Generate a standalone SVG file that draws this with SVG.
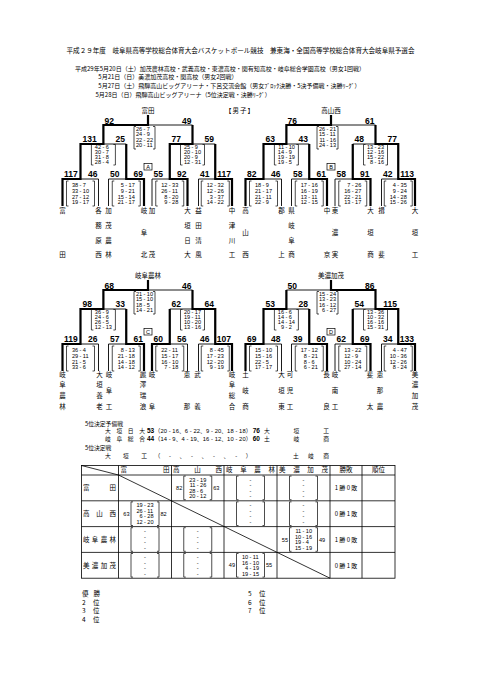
<svg xmlns="http://www.w3.org/2000/svg" width="481" height="680" viewBox="0 0 481 680">
<style>
text{font-family:"Liberation Sans",Arial,sans-serif;fill:#000}
.j{font-family:"Noto Sans CJK JP","Noto Sans CJK SC",sans-serif;font-size:6.5px}
.jm{text-anchor:middle}
.n{font-weight:bold;font-size:8.5px}
.e{text-anchor:end}
.s{font-size:5.6px}
.l{text-anchor:end}
.m{text-anchor:middle}
.b7{font-weight:bold;font-size:6.5px}
.r{font-family:"Liberation Sans","Noto Sans CJK JP",sans-serif;font-size:5.8px}
.h6{font-size:6px}
.rs{font-size:5.8px}
.thick{fill:none;stroke:#000;stroke-width:2.2}
.tb{fill:none;stroke:#000;stroke-width:0.8}
</style>
<defs>
<path id="frame" fill="none" stroke="#000" stroke-width="0.9" d="M148,115V125M103.4,125H192.5M103.4,125V144M192.5,125V144M80.5,144H126.25M169.75,144H215.25M80.5,144V179M126.25,144V179M169.75,144V179M215.25,144V179M62.5,179H98.5M108.5,179H144M152,179H187.5M198.5,179H232M62.5,179V206M98.5,179V206M108.5,179V206M144,179V206M152,179V206M187.5,179V206M198.5,179V206M232,179V206"/>
<path id="boxes" fill="none" stroke="#000" stroke-width="0.7" d="M136,126.5H134V149H136M153,126.5H155V149H153M93.4,144.5H91.4V165H93.4M113.4,144.5H115.4V165H113.4M182.5,144.5H180.5V165H182.5M202.5,144.5H204.5V165H202.5M68.5,181H66.5V206H68.5M92.5,181H94.5V206H92.5M114.25,181H112.25V206H114.25M138.25,181H140.25V206H138.25M157.75,181H155.75V206H157.75M181.75,181H183.75V206H181.75M203.25,181H201.25V206H203.25M227.25,181H229.25V206H227.25"/>
<rect id="lbox" x="144" y="163.5" width="8" height="6.5" fill="none" stroke="#000" stroke-width="0.7"/>
<path id="cbox" fill="none" stroke="#000" stroke-width="0.7" d="M-12,-11.8H-14V11.8H-12M12,-11.8H14V11.8H12"/>
<g id="ebox"><use href="#cbox"/><text class="s m" x="0"><tspan x="0" y="-6.25">-</tspan><tspan x="0" y="-0.75">-</tspan><tspan x="0" y="4.75">-</tspan><tspan x="0" y="10.25">-</tspan></text></g>
</defs>

<g id="header">
<text class="j" x="66.5" y="53" textLength="348" lengthAdjust="spacingAndGlyphs">平成２９年度　岐阜県高等学校総合体育大会バスケットボール競技　兼東海・全国高等学校総合体育大会岐阜県予選会</text>
<text class="j h6" x="75" y="70.5">平成29年5月20日（土）加茂農林高校・武義高校・東濃高校・関有知高校・岐阜総合学園高校（男女1回戦）</text>
<text class="j h6" x="98.3" y="79.3">5月21日（日）美濃加茂高校・関高校（男女2回戦）</text>
<text class="j h6" x="98.3" y="88.3">5月27日（土）飛騨高山ビッグアリーナ・下呂交流会館（男女ﾌﾞﾛｯｸ決勝・5決予備戦・決勝ﾘｰｸﾞ）</text>
<text class="j h6" x="95.5" y="96.6">5月28日（日）飛騨高山ビッグアリーナ（5位決定戦・決勝ﾘｰｸﾞ）</text>
<text class="j" x="225" y="112.5" textLength="29" lengthAdjust="spacing">【 男 子 】</text>
</g>

<!-- Block A -->
<g id="block-A">
<g id="connectors-A"><use href="#frame"/><use href="#boxes"/><use href="#lbox"/>
<path class="thick" d="M62.5,206V179H80.5V144H103.4V125H148V115M144,206V179H126.25V144M187.5,206V179H169.75V144H192.5V125M232,206V179H215.25V144"/></g>
<text class="s m" x="148" y="168.9">A</text>
<text class="j jm" x="148" y="112.5">富田</text>
<text class="n" x="104.5" y="123.5">92</text><text class="n e" x="191.5" y="123.5">49</text>
<text class="n" x="82.5" y="142.3">131</text><text class="n e" x="125" y="142.3">25</text><text class="n" x="171.5" y="142.3">77</text><text class="n e" x="214" y="142.3">59</text>
<text class="n" x="64" y="176.5">117</text><text class="n e" x="97.5" y="176.5">46</text><text class="n" x="110" y="176.5">50</text><text class="n e" x="143" y="176.5">69</text><text class="n" x="153.5" y="176.5">55</text><text class="n e" x="186.5" y="176.5">92</text><text class="n" x="200" y="176.5">41</text><text class="n e" x="231" y="176.5">117</text>
<text class="s"><tspan class="l" x="142.2" y="131">26</tspan><tspan class="m" x="144.5">-</tspan><tspan x="146.8">7</tspan><tspan class="l" x="142.2" y="136.3">24</tspan><tspan class="m" x="144.5">-</tspan><tspan x="146.8">9</tspan><tspan class="l" x="142.2" y="141.6">22</tspan><tspan class="m" x="144.5">-</tspan><tspan x="146.8">22</tspan><tspan class="l" x="142.2" y="146.9">20</tspan><tspan class="m" x="144.5">-</tspan><tspan x="146.8">11</tspan></text>
<text class="s"><tspan class="l" x="101.1" y="148.7">42</tspan><tspan class="m" x="103.4">-</tspan><tspan x="105.7">6</tspan><tspan class="l" x="101.1" y="153.7">30</tspan><tspan class="m" x="103.4">-</tspan><tspan x="105.7">7</tspan><tspan class="l" x="101.1" y="158.6">31</tspan><tspan class="m" x="103.4">-</tspan><tspan x="105.7">8</tspan><tspan class="l" x="101.1" y="163.5">28</tspan><tspan class="m" x="103.4">-</tspan><tspan x="105.7">4</tspan></text>
<text class="s"><tspan class="l" x="190.2" y="148.7">25</tspan><tspan class="m" x="192.5">-</tspan><tspan x="194.8">9</tspan><tspan class="l" x="190.2" y="153.7">20</tspan><tspan class="m" x="192.5">-</tspan><tspan x="194.8">10</tspan><tspan class="l" x="190.2" y="158.6">20</tspan><tspan class="m" x="192.5">-</tspan><tspan x="194.8">9</tspan><tspan class="l" x="190.2" y="163.5">12</tspan><tspan class="m" x="192.5">-</tspan><tspan x="194.8">31</tspan></text>
<text class="s"><tspan class="l" x="78.2" y="187.3">38</tspan><tspan class="m" x="80.5">-</tspan><tspan x="82.8">7</tspan><tspan class="l" x="78.2" y="192.9">33</tspan><tspan class="m" x="80.5">-</tspan><tspan x="82.8">10</tspan><tspan class="l" x="78.2" y="198.5">27</tspan><tspan class="m" x="80.5">-</tspan><tspan x="82.8">12</tspan><tspan class="l" x="78.2" y="204.1">19</tspan><tspan class="m" x="80.5">-</tspan><tspan x="82.8">17</tspan></text>
<text class="s"><tspan class="l" x="123.95" y="187.3">5</tspan><tspan class="m" x="126.25">-</tspan><tspan x="128.55">17</tspan><tspan class="l" x="123.95" y="192.9">9</tspan><tspan class="m" x="126.25">-</tspan><tspan x="128.55">21</tspan><tspan class="l" x="123.95" y="198.5">15</tspan><tspan class="m" x="126.25">-</tspan><tspan x="128.55">14</tspan><tspan class="l" x="123.95" y="204.1">21</tspan><tspan class="m" x="126.25">-</tspan><tspan x="128.55">17</tspan></text>
<text class="s"><tspan class="l" x="167.45" y="187.3">12</tspan><tspan class="m" x="169.75">-</tspan><tspan x="172.05">33</tspan><tspan class="l" x="167.45" y="192.9">26</tspan><tspan class="m" x="169.75">-</tspan><tspan x="172.05">11</tspan><tspan class="l" x="167.45" y="198.5">8</tspan><tspan class="m" x="169.75">-</tspan><tspan x="172.05">20</tspan><tspan class="l" x="167.45" y="204.1">9</tspan><tspan class="m" x="169.75">-</tspan><tspan x="172.05">28</tspan></text>
<text class="s"><tspan class="l" x="212.95" y="187.3">12</tspan><tspan class="m" x="215.25">-</tspan><tspan x="217.55">32</tspan><tspan class="l" x="212.95" y="192.9">12</tspan><tspan class="m" x="215.25">-</tspan><tspan x="217.55">26</tspan><tspan class="l" x="212.95" y="198.5">3</tspan><tspan class="m" x="215.25">-</tspan><tspan x="217.55">37</tspan><tspan class="l" x="212.95" y="204.1">14</tspan><tspan class="m" x="215.25">-</tspan><tspan x="217.55">22</tspan></text>
<text class="j jm"><tspan x="62.5" y="213.3">富</tspan><tspan x="62.5" y="257.3">田</tspan></text>
<text class="j jm"><tspan x="98.5" y="213.3">各</tspan><tspan x="98.5" y="228">務</tspan><tspan x="98.5" y="242.6">原</tspan><tspan x="98.5" y="257.3">西</tspan></text>
<text class="j jm"><tspan x="108.5" y="213.3">加</tspan><tspan x="108.5" y="228">茂</tspan><tspan x="108.5" y="242.6">農</tspan><tspan x="108.5" y="257.3">林</tspan></text>
<text class="j jm"><tspan x="144" y="213.3">岐</tspan><tspan x="144" y="235.3">阜</tspan><tspan x="144" y="257.3">北</tspan></text>
<text class="j jm"><tspan x="152" y="213.3">加</tspan><tspan x="152" y="257.3">茂</tspan></text>
<text class="j jm"><tspan x="187.5" y="213.3">大</tspan><tspan x="187.5" y="228">垣</tspan><tspan x="187.5" y="242.6">日</tspan><tspan x="187.5" y="257.3">大</tspan></text>
<text class="j jm"><tspan x="198.5" y="213.3">益</tspan><tspan x="198.5" y="228">田</tspan><tspan x="198.5" y="242.6">清</tspan><tspan x="198.5" y="257.3">風</tspan></text>
<text class="j jm"><tspan x="232" y="213.3">中</tspan><tspan x="232" y="228">津</tspan><tspan x="232" y="242.6">川</tspan><tspan x="232" y="257.3">工</tspan></text>
</g>

<!-- Block B -->
<g id="block-B" transform="translate(183,0)">
<g id="connectors-B"><use href="#frame"/><use href="#boxes"/><use href="#lbox"/>
<path class="thick" d="M62.5,206V179H80.5V144H103.4V125H148V115M144,206V179H126.25V144M187.5,206V179H169.75V144M232,206V179H215.25V144H192.5V125"/></g>
<text class="s m" x="148" y="168.9">B</text>
<text class="j jm" x="148" y="112.5">高山西</text>
<text class="n" x="104.5" y="123.5">76</text><text class="n e" x="191.5" y="123.5">61</text>
<text class="n" x="82.5" y="142.3">63</text><text class="n e" x="125" y="142.3">43</text><text class="n" x="171.5" y="142.3">48</text><text class="n e" x="214" y="142.3">77</text>
<text class="n" x="64" y="176.5">82</text><text class="n e" x="97.5" y="176.5">46</text><text class="n" x="110" y="176.5">58</text><text class="n e" x="143" y="176.5">61</text><text class="n" x="153.5" y="176.5">58</text><text class="n e" x="186.5" y="176.5">91</text><text class="n" x="200" y="176.5">42</text><text class="n e" x="231" y="176.5">113</text>
<text class="s"><tspan class="l" x="142.2" y="131">26</tspan><tspan class="m" x="144.5">-</tspan><tspan x="146.8">21</tspan><tspan class="l" x="142.2" y="136.3">15</tspan><tspan class="m" x="144.5">-</tspan><tspan x="146.8">11</tspan><tspan class="l" x="142.2" y="141.6">11</tspan><tspan class="m" x="144.5">-</tspan><tspan x="146.8">16</tspan><tspan class="l" x="142.2" y="146.9">24</tspan><tspan class="m" x="144.5">-</tspan><tspan x="146.8">13</tspan></text>
<text class="s"><tspan class="l" x="101.1" y="148.7">11</tspan><tspan class="m" x="103.4">-</tspan><tspan x="105.7">10</tspan><tspan class="l" x="101.1" y="153.7">14</tspan><tspan class="m" x="103.4">-</tspan><tspan x="105.7">9</tspan><tspan class="l" x="101.1" y="158.6">19</tspan><tspan class="m" x="103.4">-</tspan><tspan x="105.7">19</tspan><tspan class="l" x="101.1" y="163.5">19</tspan><tspan class="m" x="103.4">-</tspan><tspan x="105.7">5</tspan></text>
<text class="s"><tspan class="l" x="190.2" y="148.7">13</tspan><tspan class="m" x="192.5">-</tspan><tspan x="194.8">23</tspan><tspan class="l" x="190.2" y="153.7">12</tspan><tspan class="m" x="192.5">-</tspan><tspan x="194.8">16</tspan><tspan class="l" x="190.2" y="158.6">15</tspan><tspan class="m" x="192.5">-</tspan><tspan x="194.8">22</tspan><tspan class="l" x="190.2" y="163.5">8</tspan><tspan class="m" x="192.5">-</tspan><tspan x="194.8">16</tspan></text>
<text class="s"><tspan class="l" x="78.2" y="187.3">18</tspan><tspan class="m" x="80.5">-</tspan><tspan x="82.8">9</tspan><tspan class="l" x="78.2" y="192.9">21</tspan><tspan class="m" x="80.5">-</tspan><tspan x="82.8">17</tspan><tspan class="l" x="78.2" y="198.5">21</tspan><tspan class="m" x="80.5">-</tspan><tspan x="82.8">11</tspan><tspan class="l" x="78.2" y="204.1">22</tspan><tspan class="m" x="80.5">-</tspan><tspan x="82.8">9</tspan></text>
<text class="s"><tspan class="l" x="123.95" y="187.3">17</tspan><tspan class="m" x="126.25">-</tspan><tspan x="128.55">16</tspan><tspan class="l" x="123.95" y="192.9">16</tspan><tspan class="m" x="126.25">-</tspan><tspan x="128.55">19</tspan><tspan class="l" x="123.95" y="198.5">13</tspan><tspan class="m" x="126.25">-</tspan><tspan x="128.55">11</tspan><tspan class="l" x="123.95" y="204.1">12</tspan><tspan class="m" x="126.25">-</tspan><tspan x="128.55">15</tspan></text>
<text class="s"><tspan class="l" x="167.45" y="187.3">7</tspan><tspan class="m" x="169.75">-</tspan><tspan x="172.05">26</tspan><tspan class="l" x="167.45" y="192.9">16</tspan><tspan class="m" x="169.75">-</tspan><tspan x="172.05">27</tspan><tspan class="l" x="167.45" y="198.5">22</tspan><tspan class="m" x="169.75">-</tspan><tspan x="172.05">21</tspan><tspan class="l" x="167.45" y="204.1">13</tspan><tspan class="m" x="169.75">-</tspan><tspan x="172.05">17</tspan></text>
<text class="s"><tspan class="l" x="212.95" y="187.3">4</tspan><tspan class="m" x="215.25">-</tspan><tspan x="217.55">35</tspan><tspan class="l" x="212.95" y="192.9">9</tspan><tspan class="m" x="215.25">-</tspan><tspan x="217.55">24</tspan><tspan class="l" x="212.95" y="198.5">14</tspan><tspan class="m" x="215.25">-</tspan><tspan x="217.55">28</tspan><tspan class="l" x="212.95" y="204.1">15</tspan><tspan class="m" x="215.25">-</tspan><tspan x="217.55">26</tspan></text>
<text class="j jm"><tspan x="62.5" y="213.3">高</tspan><tspan x="62.5" y="235.3">山</tspan><tspan x="62.5" y="257.3">西</tspan></text>
<text class="j jm"><tspan x="98.5" y="213.3">郡</tspan><tspan x="98.5" y="257.3">上</tspan></text>
<text class="j jm"><tspan x="108.5" y="213.3">県</tspan><tspan x="108.5" y="228">岐</tspan><tspan x="108.5" y="242.6">阜</tspan><tspan x="108.5" y="257.3">商</tspan></text>
<text class="j jm"><tspan x="144" y="213.3">中</tspan><tspan x="144" y="257.3">京</tspan></text>
<text class="j jm"><tspan x="152" y="213.3">東</tspan><tspan x="152" y="235.3">濃</tspan><tspan x="152" y="257.3">実</tspan></text>
<text class="j jm"><tspan x="187.5" y="213.3">大</tspan><tspan x="187.5" y="235.3">垣</tspan><tspan x="187.5" y="257.3">商</tspan></text>
<text class="j jm"><tspan x="198.5" y="213.3">揖</tspan><tspan x="198.5" y="257.3">斐</tspan></text>
<text class="j jm"><tspan x="232" y="213.3">大</tspan><tspan x="232" y="235.3">垣</tspan><tspan x="232" y="257.3">工</tspan></text>
</g>

<!-- Block C -->
<g id="block-C" transform="translate(0,165)">
<g id="connectors-C"><use href="#frame"/><use href="#boxes"/><use href="#lbox"/>
<path class="thick" d="M62.5,206V179H80.5V144H103.4V125H148V115M144,206V179H126.25V144M152,206V179H169.75V144M232,206V179H215.25V144H192.5V125"/></g>
<text class="s m" x="148" y="168.9">C</text>
<text class="j jm" x="148" y="112.5">岐阜農林</text>
<text class="n" x="104.5" y="123.5">68</text><text class="n e" x="191.5" y="123.5">46</text>
<text class="n" x="82.5" y="142.3">98</text><text class="n e" x="125" y="142.3">33</text><text class="n" x="171.5" y="142.3">62</text><text class="n e" x="214" y="142.3">64</text>
<text class="n" x="64" y="176.5">119</text><text class="n e" x="97.5" y="176.5">26</text><text class="n" x="110" y="176.5">57</text><text class="n e" x="143" y="176.5">61</text><text class="n" x="153.5" y="176.5">60</text><text class="n e" x="186.5" y="176.5">56</text><text class="n" x="200" y="176.5">46</text><text class="n e" x="231" y="176.5">107</text>
<text class="s"><tspan class="l" x="142.2" y="131">21</tspan><tspan class="m" x="144.5">-</tspan><tspan x="146.8">10</tspan><tspan class="l" x="142.2" y="136.3">15</tspan><tspan class="m" x="144.5">-</tspan><tspan x="146.8">10</tspan><tspan class="l" x="142.2" y="141.6">18</tspan><tspan class="m" x="144.5">-</tspan><tspan x="146.8">5</tspan><tspan class="l" x="142.2" y="146.9">14</tspan><tspan class="m" x="144.5">-</tspan><tspan x="146.8">21</tspan></text>
<text class="s"><tspan class="l" x="101.1" y="148.7">36</tspan><tspan class="m" x="103.4">-</tspan><tspan x="105.7">9</tspan><tspan class="l" x="101.1" y="153.7">24</tspan><tspan class="m" x="103.4">-</tspan><tspan x="105.7">6</tspan><tspan class="l" x="101.1" y="158.6">26</tspan><tspan class="m" x="103.4">-</tspan><tspan x="105.7">5</tspan><tspan class="l" x="101.1" y="163.5">12</tspan><tspan class="m" x="103.4">-</tspan><tspan x="105.7">13</tspan></text>
<text class="s"><tspan class="l" x="190.2" y="148.7">20</tspan><tspan class="m" x="192.5">-</tspan><tspan x="194.8">17</tspan><tspan class="l" x="190.2" y="153.7">19</tspan><tspan class="m" x="192.5">-</tspan><tspan x="194.8">11</tspan><tspan class="l" x="190.2" y="158.6">10</tspan><tspan class="m" x="192.5">-</tspan><tspan x="194.8">20</tspan><tspan class="l" x="190.2" y="163.5">13</tspan><tspan class="m" x="192.5">-</tspan><tspan x="194.8">16</tspan></text>
<text class="s"><tspan class="l" x="78.2" y="187.3">36</tspan><tspan class="m" x="80.5">-</tspan><tspan x="82.8">4</tspan><tspan class="l" x="78.2" y="192.9">29</tspan><tspan class="m" x="80.5">-</tspan><tspan x="82.8">11</tspan><tspan class="l" x="78.2" y="198.5">21</tspan><tspan class="m" x="80.5">-</tspan><tspan x="82.8">5</tspan><tspan class="l" x="78.2" y="204.1">33</tspan><tspan class="m" x="80.5">-</tspan><tspan x="82.8">6</tspan></text>
<text class="s"><tspan class="l" x="123.95" y="187.3">8</tspan><tspan class="m" x="126.25">-</tspan><tspan x="128.55">13</tspan><tspan class="l" x="123.95" y="192.9">21</tspan><tspan class="m" x="126.25">-</tspan><tspan x="128.55">18</tspan><tspan class="l" x="123.95" y="198.5">14</tspan><tspan class="m" x="126.25">-</tspan><tspan x="128.55">18</tspan><tspan class="l" x="123.95" y="204.1">14</tspan><tspan class="m" x="126.25">-</tspan><tspan x="128.55">12</tspan></text>
<text class="s"><tspan class="l" x="167.45" y="187.3">22</tspan><tspan class="m" x="169.75">-</tspan><tspan x="172.05">11</tspan><tspan class="l" x="167.45" y="192.9">15</tspan><tspan class="m" x="169.75">-</tspan><tspan x="172.05">17</tspan><tspan class="l" x="167.45" y="198.5">16</tspan><tspan class="m" x="169.75">-</tspan><tspan x="172.05">10</tspan><tspan class="l" x="167.45" y="204.1">7</tspan><tspan class="m" x="169.75">-</tspan><tspan x="172.05">18</tspan></text>
<text class="s"><tspan class="l" x="212.95" y="187.3">8</tspan><tspan class="m" x="215.25">-</tspan><tspan x="217.55">45</tspan><tspan class="l" x="212.95" y="192.9">17</tspan><tspan class="m" x="215.25">-</tspan><tspan x="217.55">23</tspan><tspan class="l" x="212.95" y="198.5">12</tspan><tspan class="m" x="215.25">-</tspan><tspan x="217.55">20</tspan><tspan class="l" x="212.95" y="204.1">9</tspan><tspan class="m" x="215.25">-</tspan><tspan x="217.55">19</tspan></text>
<text class="j jm"><tspan x="62.5" y="211.6">岐</tspan><tspan x="62.5" y="222.4">阜</tspan><tspan x="62.5" y="233.2">農</tspan><tspan x="62.5" y="244">林</tspan></text>
<text class="j jm"><tspan x="99.5" y="211.6">大</tspan><tspan x="99.5" y="222.4">垣</tspan><tspan x="99.5" y="233.2">養</tspan><tspan x="99.5" y="244">老</tspan></text>
<text class="j jm"><tspan x="109" y="211.6">岐</tspan><tspan x="109" y="227.8">阜</tspan><tspan x="109" y="244">工</tspan></text>
<text class="j jm"><tspan x="143" y="211.6">麗</tspan><tspan x="143" y="222.4">澤</tspan><tspan x="143" y="233.2">瑞</tspan><tspan x="143" y="244">浪</tspan></text>
<text class="j jm"><tspan x="152" y="211.6">岐</tspan><tspan x="152" y="244">阜</tspan></text>
<text class="j jm"><tspan x="187" y="211.6">恵</tspan><tspan x="187" y="244">那</tspan></text>
<text class="j jm"><tspan x="197.5" y="211.6">武</tspan><tspan x="197.5" y="244">義</tspan></text>
<text class="j jm"><tspan x="232" y="211.6">岐</tspan><tspan x="232" y="222.4">阜</tspan><tspan x="232" y="233.2">総</tspan><tspan x="232" y="244">合</tspan></text>
</g>

<!-- Block D -->
<g id="block-D" transform="translate(183,165)">
<g id="connectors-D"><use href="#frame"/><use href="#boxes"/><use href="#lbox"/>
<path class="thick" d="M62.5,206V179H80.5V144H103.4V125M144,206V179H126.25V144M187.5,206V179H169.75V144M232,206V179H215.25V144H192.5V125H148V115"/></g>
<text class="s m" x="148" y="168.9">D</text>
<text class="j jm" x="148" y="112.5">美濃加茂</text>
<text class="n" x="104.5" y="123.5">50</text><text class="n e" x="191.5" y="123.5">86</text>
<text class="n" x="82.5" y="142.3">53</text><text class="n e" x="125" y="142.3">28</text><text class="n" x="171.5" y="142.3">54</text><text class="n e" x="214" y="142.3">115</text>
<text class="n" x="64" y="176.5">69</text><text class="n e" x="97.5" y="176.5">48</text><text class="n" x="110" y="176.5">39</text><text class="n e" x="143" y="176.5">60</text><text class="n" x="153.5" y="176.5">62</text><text class="n e" x="186.5" y="176.5">69</text><text class="n" x="200" y="176.5">34</text><text class="n e" x="231" y="176.5">133</text>
<text class="s"><tspan class="l" x="142.2" y="131">15</tspan><tspan class="m" x="144.5">-</tspan><tspan x="146.8">24</tspan><tspan class="l" x="142.2" y="136.3">13</tspan><tspan class="m" x="144.5">-</tspan><tspan x="146.8">23</tspan><tspan class="l" x="142.2" y="141.6">16</tspan><tspan class="m" x="144.5">-</tspan><tspan x="146.8">12</tspan><tspan class="l" x="142.2" y="146.9">6</tspan><tspan class="m" x="144.5">-</tspan><tspan x="146.8">27</tspan></text>
<text class="s"><tspan class="l" x="101.1" y="148.7">16</tspan><tspan class="m" x="103.4">-</tspan><tspan x="105.7">6</tspan><tspan class="l" x="101.1" y="153.7">14</tspan><tspan class="m" x="103.4">-</tspan><tspan x="105.7">6</tspan><tspan class="l" x="101.1" y="158.6">14</tspan><tspan class="m" x="103.4">-</tspan><tspan x="105.7">14</tspan><tspan class="l" x="101.1" y="163.5">9</tspan><tspan class="m" x="103.4">-</tspan><tspan x="105.7">2</tspan></text>
<text class="s"><tspan class="l" x="190.2" y="148.7">13</tspan><tspan class="m" x="192.5">-</tspan><tspan x="194.8">36</tspan><tspan class="l" x="190.2" y="153.7">10</tspan><tspan class="m" x="192.5">-</tspan><tspan x="194.8">32</tspan><tspan class="l" x="190.2" y="158.6">16</tspan><tspan class="m" x="192.5">-</tspan><tspan x="194.8">16</tspan><tspan class="l" x="190.2" y="163.5">15</tspan><tspan class="m" x="192.5">-</tspan><tspan x="194.8">31</tspan></text>
<text class="s"><tspan class="l" x="78.2" y="187.3">15</tspan><tspan class="m" x="80.5">-</tspan><tspan x="82.8">10</tspan><tspan class="l" x="78.2" y="192.9">15</tspan><tspan class="m" x="80.5">-</tspan><tspan x="82.8">16</tspan><tspan class="l" x="78.2" y="198.5">22</tspan><tspan class="m" x="80.5">-</tspan><tspan x="82.8">5</tspan><tspan class="l" x="78.2" y="204.1">17</tspan><tspan class="m" x="80.5">-</tspan><tspan x="82.8">17</tspan></text>
<text class="s"><tspan class="l" x="123.95" y="187.3">17</tspan><tspan class="m" x="126.25">-</tspan><tspan x="128.55">12</tspan><tspan class="l" x="123.95" y="192.9">8</tspan><tspan class="m" x="126.25">-</tspan><tspan x="128.55">21</tspan><tspan class="l" x="123.95" y="198.5">8</tspan><tspan class="m" x="126.25">-</tspan><tspan x="128.55">6</tspan><tspan class="l" x="123.95" y="204.1">6</tspan><tspan class="m" x="126.25">-</tspan><tspan x="128.55">21</tspan></text>
<text class="s"><tspan class="l" x="167.45" y="187.3">13</tspan><tspan class="m" x="169.75">-</tspan><tspan x="172.05">22</tspan><tspan class="l" x="167.45" y="192.9">12</tspan><tspan class="m" x="169.75">-</tspan><tspan x="172.05">9</tspan><tspan class="l" x="167.45" y="198.5">10</tspan><tspan class="m" x="169.75">-</tspan><tspan x="172.05">24</tspan><tspan class="l" x="167.45" y="204.1">27</tspan><tspan class="m" x="169.75">-</tspan><tspan x="172.05">14</tspan></text>
<text class="s"><tspan class="l" x="212.95" y="187.3">4</tspan><tspan class="m" x="215.25">-</tspan><tspan x="217.55">47</tspan><tspan class="l" x="212.95" y="192.9">10</tspan><tspan class="m" x="215.25">-</tspan><tspan x="217.55">36</tspan><tspan class="l" x="212.95" y="198.5">12</tspan><tspan class="m" x="215.25">-</tspan><tspan x="217.55">26</tspan><tspan class="l" x="212.95" y="204.1">8</tspan><tspan class="m" x="215.25">-</tspan><tspan x="217.55">24</tspan></text>
<text class="j jm"><tspan x="62.5" y="211.6">土</tspan><tspan x="62.5" y="227.8">岐</tspan><tspan x="62.5" y="244">商</tspan></text>
<text class="j jm"><tspan x="98.5" y="211.6">大</tspan><tspan x="98.5" y="227.8">垣</tspan><tspan x="98.5" y="244">東</tspan></text>
<text class="j jm"><tspan x="107" y="211.6">可</tspan><tspan x="107" y="227.8">児</tspan><tspan x="107" y="244">工</tspan></text>
<text class="j jm"><tspan x="143.5" y="211.6">長</tspan><tspan x="143.5" y="244">良</tspan></text>
<text class="j jm"><tspan x="152" y="211.6">岐</tspan><tspan x="152" y="227.8">南</tspan><tspan x="152" y="244">工</tspan></text>
<text class="j jm"><tspan x="187" y="211.6">斐</tspan><tspan x="187" y="244">太</tspan></text>
<text class="j jm"><tspan x="197" y="211.6">恵</tspan><tspan x="197" y="227.8">那</tspan><tspan x="197" y="244">農</tspan></text>
<text class="j jm"><tspan x="232" y="211.6">美</tspan><tspan x="232" y="222.4">濃</tspan><tspan x="232" y="233.2">加</tspan><tspan x="232" y="244">茂</tspan></text>
</g>

<!-- Results -->
<g id="results">
<text class="j rs" x="85" y="425.6">5位決定予備戦</text>
<text class="j rs" x="105" y="433.4" textLength="40" lengthAdjust="spacing">大垣日大</text>
<text class="b7" x="147" y="433.4">53</text>
<text class="r" x="154.5" y="433.4" textLength="97" lengthAdjust="spacing">（20 - 16、6 - 22、9 - 20、18 - 18）</text>
<text class="b7" x="252.7" y="433.4">76</text>
<text class="j rs" x="264" y="433.4" textLength="65" lengthAdjust="spacing">大垣工</text>
<text class="j rs" x="105" y="441.4" textLength="40" lengthAdjust="spacing">岐阜総合</text>
<text class="b7" x="147" y="441.4">44</text>
<text class="r" x="154.5" y="441.4" textLength="97" lengthAdjust="spacing">（14 - 9、4 - 19、16 - 12、10 - 20）</text>
<text class="b7" x="252.7" y="441.4">60</text>
<text class="j rs" x="264" y="441.4" textLength="65" lengthAdjust="spacing">土岐商</text>
<text class="j rs" x="85" y="449.8">5位決定戦</text>
<text class="j rs" x="105" y="457.8" textLength="42" lengthAdjust="spacing">大垣工</text>
<text class="r" x="154.5" y="457.8" textLength="97" lengthAdjust="spacing">（　-　、　-　、　-　、　-　）</text>
<text class="j rs" x="293" y="457.8" textLength="36" lengthAdjust="spacing">土岐商</text>
</g>

<!-- League table -->
<g id="league-table">
<rect class="tb" x="81.5" y="465.5" width="313.5" height="112.7"/>
<path class="tb" d="M81.5,475H395M81.5,500.8H395M81.5,526.6H395M81.5,552.4H395M118.5,465.5V578.2M171.5,465.5V578.2M224,465.5V578.2M277,465.5V578.2M330,465.5V578.2M362,465.5V578.2M81.5,465.5L118.5,475M118.5,475L330,578.2"/>
<text class="j" x="120.5" y="472.4" textLength="49" lengthAdjust="spacing">富田</text>
<text class="j" x="173" y="472.4" textLength="49" lengthAdjust="spacing">高山西</text>
<text class="j" x="226" y="472.4" textLength="49" lengthAdjust="spacing">岐阜農林</text>
<text class="j" x="279" y="472.4" textLength="49" lengthAdjust="spacing">美濃加茂</text>
<text class="j jm" x="346" y="472.4">勝敗</text>
<text class="j jm" x="378.5" y="472.4">順位</text>
<text class="j" x="83" y="490.2" textLength="33" lengthAdjust="spacing">富田</text>
<text class="j" x="83" y="516" textLength="33" lengthAdjust="spacing">高山西</text>
<text class="j" x="83" y="541.8" textLength="33" lengthAdjust="spacing">岐阜農林</text>
<text class="j" x="83" y="567.6" textLength="33" lengthAdjust="spacing">美濃加茂</text>
<g transform="translate(197.75,487.9)"><use href="#cbox"/><text class="s"><tspan class="l" x="-2.3" y="-6.25">23</tspan><tspan class="m" x="0">-</tspan><tspan x="2.3">19</tspan><tspan class="l" x="-2.3" y="-0.75">11</tspan><tspan class="m" x="0">-</tspan><tspan x="2.3">26</tspan><tspan class="l" x="-2.3" y="4.75">28</tspan><tspan class="m" x="0">-</tspan><tspan x="2.3">6</tspan><tspan class="l" x="-2.3" y="10.25">20</tspan><tspan class="m" x="0">-</tspan><tspan x="2.3">12</tspan></text><text class="s l" x="-15.5" y="2">82</text><text class="s" x="15.5" y="2">63</text></g>
<g transform="translate(250.5,487.9)"><use href="#ebox"/></g>
<g transform="translate(303.5,487.9)"><use href="#ebox"/></g>
<g transform="translate(145,513.7)"><use href="#cbox"/><text class="s"><tspan class="l" x="-2.3" y="-6.25">19</tspan><tspan class="m" x="0">-</tspan><tspan x="2.3">23</tspan><tspan class="l" x="-2.3" y="-0.75">26</tspan><tspan class="m" x="0">-</tspan><tspan x="2.3">11</tspan><tspan class="l" x="-2.3" y="4.75">6</tspan><tspan class="m" x="0">-</tspan><tspan x="2.3">28</tspan><tspan class="l" x="-2.3" y="10.25">12</tspan><tspan class="m" x="0">-</tspan><tspan x="2.3">20</tspan></text><text class="s l" x="-15.5" y="2">63</text><text class="s" x="15.5" y="2">82</text></g>
<g transform="translate(250.5,513.7)"><use href="#ebox"/></g>
<g transform="translate(303.5,513.7)"><use href="#ebox"/></g>
<g transform="translate(145,539.5)"><use href="#ebox"/></g>
<g transform="translate(197.75,539.5)"><use href="#ebox"/></g>
<g transform="translate(303.5,539.5)"><use href="#cbox"/><text class="s"><tspan class="l" x="-2.3" y="-6.25">11</tspan><tspan class="m" x="0">-</tspan><tspan x="2.3">10</tspan><tspan class="l" x="-2.3" y="-0.75">10</tspan><tspan class="m" x="0">-</tspan><tspan x="2.3">16</tspan><tspan class="l" x="-2.3" y="4.75">19</tspan><tspan class="m" x="0">-</tspan><tspan x="2.3">4</tspan><tspan class="l" x="-2.3" y="10.25">15</tspan><tspan class="m" x="0">-</tspan><tspan x="2.3">19</tspan></text><text class="s l" x="-15.5" y="2">55</text><text class="s" x="15.5" y="2">49</text></g>
<g transform="translate(145,565.3)"><use href="#ebox"/></g>
<g transform="translate(197.75,565.3)"><use href="#ebox"/></g>
<g transform="translate(250.5,565.3)"><use href="#cbox"/><text class="s"><tspan class="l" x="-2.3" y="-6.25">10</tspan><tspan class="m" x="0">-</tspan><tspan x="2.3">11</tspan><tspan class="l" x="-2.3" y="-0.75">16</tspan><tspan class="m" x="0">-</tspan><tspan x="2.3">10</tspan><tspan class="l" x="-2.3" y="4.75">4</tspan><tspan class="m" x="0">-</tspan><tspan x="2.3">19</tspan><tspan class="l" x="-2.3" y="10.25">19</tspan><tspan class="m" x="0">-</tspan><tspan x="2.3">15</tspan></text><text class="s l" x="-15.5" y="2">49</text><text class="s" x="15.5" y="2">55</text></g>
<text class="j jm" x="346" y="490.1" style="font-size:6px">1 勝 0 敗</text>
<text class="j jm" x="346" y="515.9" style="font-size:6px">0 勝 1 敗</text>
<text class="j jm" x="346" y="541.7" style="font-size:6px">1 勝 0 敗</text>
<text class="j jm" x="346" y="567.5" style="font-size:6px">0 勝 1 敗</text>
</g>

<!-- Rankings -->
<g id="rankings">
<text class="j" x="82" y="595.6" textLength="18" lengthAdjust="spacing">優勝</text>
<text class="j" x="82" y="604.6" textLength="17.5" lengthAdjust="spacing">2位</text>
<text class="j" x="82" y="613.3" textLength="17.5" lengthAdjust="spacing">3位</text>
<text class="j" x="82" y="622.3" textLength="17.5" lengthAdjust="spacing">4位</text>
<text class="j" x="248" y="595.6" textLength="17.5" lengthAdjust="spacing">5位</text>
<text class="j" x="248" y="604.6" textLength="17.5" lengthAdjust="spacing">6位</text>
<text class="j" x="248" y="613.3" textLength="17.5" lengthAdjust="spacing">7位</text>
</g>
</svg>
